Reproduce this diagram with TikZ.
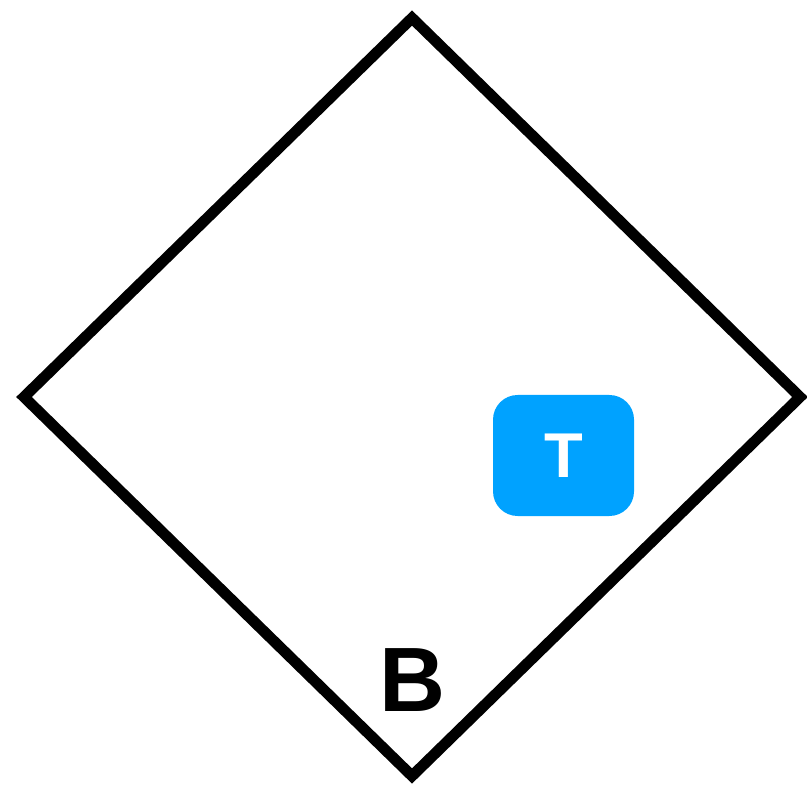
\documentclass[tikz,border=0pt]{standalone}
\usepackage{fontspec}
\setmainfont{Liberation Sans}
\definecolor{tagblue}{HTML}{00A2FF}
\begin{document}
\begin{tikzpicture}[
  x=0.01cm, y=-0.01cm,
  frame/.style={draw=black, line width=3.1pt, line join=miter},
  tagbox/.style={fill=tagblue, rounded corners=7pt, minimum width=141*0.01cm,
    minimum height=121*0.01cm, inner sep=0pt, text=white,
    font=\fontsize{18}{18}\selectfont\bfseries},
  biglabel/.style={inner sep=0pt, font=\fontsize{26}{26}\selectfont\bfseries}
]
\useasboundingbox (0,0) rectangle (807,786);
\coordinate (top) at (412,18);
\coordinate (left) at (24,397);
\coordinate (right) at (800,397);
\coordinate (bottom) at (412,776);
\draw[frame] (top) -- (right) -- (bottom) -- (left) -- cycle;
\node[tagbox] (t) at (563.5,455.5) {T};
\node[biglabel] (b) at (413,680) {B};
\end{tikzpicture}
\end{document}
